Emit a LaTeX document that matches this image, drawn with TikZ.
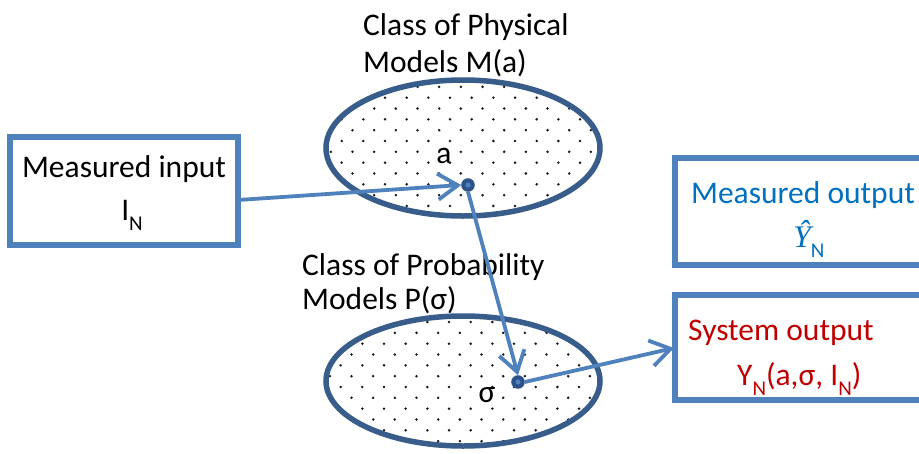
\documentclass[tikz,border=0pt]{standalone}
\usepackage{fontspec}
\setmainfont{Carlito}
\newfontfamily\libser{Liberation Serif}
\usetikzlibrary{arrows.meta}
\definecolor{boxblue}{RGB}{79,129,189}
\definecolor{ellblue}{RGB}{56,93,138}
\definecolor{txtblue}{RGB}{0,112,192}
\definecolor{txtred}{RGB}{192,0,0}
\definecolor{dotblue}{RGB}{44,82,140}
\newcommand{\lowsub}[1]{\raisebox{-0.32em}{\fontsize{21}{21}\selectfont #1}}
\begin{document}
\begin{tikzpicture}[x=1pt,y=-1pt,
  font=\fontsize{31.5}{37}\selectfont,
  box/.style={draw=boxblue, line width=5.5pt, rectangle, inner sep=0pt},
  lbl/.style={inner sep=0pt},
  conn/.style={draw=boxblue, line width=3.8pt, -{Straight Barb[length=20pt,width=26pt,line width=3.8pt]}},
  pt/.style={circle, fill=dotblue, draw=dotblue, line width=1.5pt, inner sep=0pt, minimum size=12pt},
  ellout/.style={draw=ellblue, line width=5.5pt},
  speck/.style={fill=black!90}]
\useasboundingbox (0,0) rectangle (919,453);
\fill[white] (0,0) rectangle (919,453);

% dotted fills of the ellipses
\begin{scope}
  \clip (463,148) ellipse [x radius=136, y radius=67];
  \foreach \j in {-7,...,7}{
    \pgfmathsetmacro{\yy}{141+10.83*\j}
    \pgfmathsetmacro{\off}{mod(abs(\j),2)*10.83}
    \foreach \k in {0,...,14}{
      \fill[speck] (320+\off+21.67*\k,\yy) circle (1.4pt);
    }
  }
\end{scope}
\begin{scope}
  \clip (463,381) ellipse [x radius=136, y radius=64];
  \foreach \j in {-7,...,7}{
    \pgfmathsetmacro{\yy}{387+10.83*\j}
    \pgfmathsetmacro{\off}{mod(abs(\j),2)*10.83}
    \foreach \k in {0,...,14}{
      \fill[speck] (319+\off+21.67*\k,\yy) circle (1.4pt);
    }
  }
\end{scope}
\draw[ellout] (463,148) ellipse [x radius=137, y radius=68];
\draw[ellout] (463,381) ellipse [x radius=137, y radius=65];

% boxes
\node[box, minimum width=228pt, minimum height=108pt] (inbox) at (124,191) {};
\node[box, minimum width=260pt, minimum height=107pt] (measbox) at (805,211.5) {};
\node[box, minimum width=260pt, minimum height=105pt] (sysbox) at (805,347.5) {};

% texts
\node[lbl, anchor=base] (inl1) at (124,177) {Measured input};
\node[lbl, anchor=base] (inl2) at (132,220) {I\lowsub{N}};
\node[lbl, anchor=base, text=txtblue] (meas1) at (803,203) {Measured output};
\node[lbl, anchor=base, text=txtblue] (meas2) at (809,247) {{\libser\itshape Ŷ}\lowsub{N}};
\node[lbl, anchor=base west, text=txtred] (sys1) at (688,340) {System output};
\node[lbl, anchor=base west, text=txtred] (sys2) at (737,385) {Y\lowsub{N}(a,σ, I\lowsub{N})};
\node[lbl, anchor=base west] (phys1) at (363,35) {Class of Physical};
\node[lbl, anchor=base west] (phys2) at (363,72) {Models M(a)};
\node[lbl, anchor=base west] (prob1) at (302,275) {Class of Probability};
\node[lbl, anchor=base west] (prob2) at (302,309) {Models P(σ)};
\node[lbl, anchor=base] (alab) at (444,163) {a};
\node[lbl, anchor=base] (slab) at (487,402) {σ};

% points
\node[pt] (pa) at (468,185) {};
\node[pt] (ps) at (518,382) {};
\fill[boxblue] (pa) circle (2.5pt);
\fill[boxblue] (ps) circle (2.5pt);

% connectors
\coordinate (inout) at (238,200);
\coordinate (sysin) at (674,348);
\draw[conn] (inout) -- (pa.west);
\draw[conn] (pa.south) -- (ps.north);
\draw[conn] (ps.east) -- (sysin);
\end{tikzpicture}
\end{document}
